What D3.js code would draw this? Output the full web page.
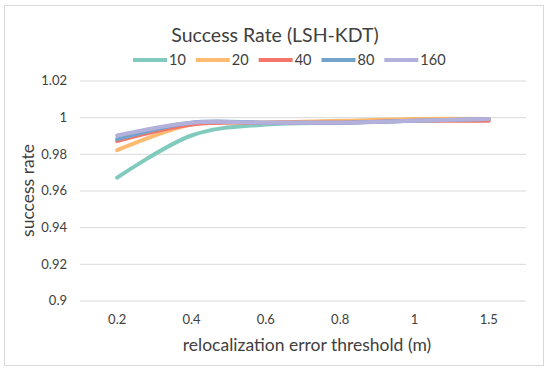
<!DOCTYPE html>
<html>
<head>
<meta charset="utf-8">
<script src="https://cdn.jsdelivr.net/npm/d3@7"></script>
<style>
  html, body { margin: 0; padding: 0; background: #fff; }
  svg { display: block; }
  text { font-family: Lato, "Open Sans", sans-serif; fill: #404040; }
</style>
</head>
<body>
<svg id="chart" width="550" height="371"></svg>
<script>
const categories = ["0.2", "0.4", "0.6", "0.8", "1", "1.5"];
const seriesNames = ["10", "20", "40", "80", "160"];
const s10  = [0.967, 0.990, 0.996, 0.997, 0.998, 0.999];
const s20  = [0.982, 0.996, 0.997, 0.998, 0.999, 0.999];
const s40  = [0.987, 0.996, 0.997, 0.997, 0.998, 0.998];
const s80  = [0.988, 0.997, 0.997, 0.997, 0.998, 0.999];
const s160 = [0.990, 0.997, 0.997, 0.997, 0.998, 0.999];
const yTicks = [0.9, 0.92, 0.94, 0.96, 0.98, 1, 1.02];
const yTickLabels = ["0.9", "0.92", "0.94", "0.96", "0.98", "1", "1.02"];
const colors = ["#80cbbd", "#fdbb72", "#f4756a", "#72a3cc", "#b3b0dc"];

const seriesValues = [s10, s20, s40, s80, s160];
const svg = d3.select("#chart");
const W = 550, H = 371;
const m = { left: 80, right: 24, top: 80.5, bottom: 70.5 };

// chart border
svg.append("rect").attr("x", 4.5).attr("y", 5.5).attr("width", 539).attr("height", 360)
  .attr("fill", "#fff").attr("stroke", "#d9d9d9").attr("stroke-width", 1);

const x = d3.scaleBand().domain(categories).range([m.left, W - m.right]);
const y = d3.scaleLinear().domain([0.9, 1.02]).range([H - m.bottom, m.top]);

// gridlines
const grid = svg.append("g").attr("class", "grid")
  .attr("transform", `translate(${m.left},0)`)
  .call(d3.axisLeft(y).tickValues(yTicks).tickSize(-(W - m.left - m.right)).tickFormat(""));
grid.select(".domain").remove();
grid.selectAll("line").attr("stroke", "#d9d9d9").attr("stroke-width", 1);

// y axis labels
const yAxis = svg.append("g")
  .attr("transform", `translate(${m.left - 13},0)`)
  .call(d3.axisLeft(y).tickValues(yTicks).tickSize(0).tickPadding(0)
    .tickFormat((d, i) => yTickLabels[i]));
yAxis.select(".domain").remove();
yAxis.selectAll("text").style("font-size", "13px").attr("fill", "#404040")
  .style("font-family", "Lato, 'Open Sans', sans-serif");

// x axis labels
const xAxis = svg.append("g")
  .attr("transform", `translate(0,${H - m.bottom})`)
  .call(d3.axisBottom(x).tickSize(0).tickPadding(14));
xAxis.select(".domain").remove();
xAxis.selectAll("text").style("font-size", "13px").attr("fill", "#404040")
  .style("font-family", "Lato, 'Open Sans', sans-serif");

// lines
const line = d3.line()
  .x((d, i) => x(categories[i]) + x.bandwidth() / 2)
  .y(d => y(d))
  .curve(d3.curveCardinal.tension(0));

seriesValues.forEach((vals, k) => {
  svg.append("path").datum(vals)
    .attr("d", line)
    .attr("fill", "none")
    .attr("stroke", colors[k])
    .attr("stroke-width", 4)
    .attr("stroke-linecap", "round")
    .attr("stroke-linejoin", "round");
});

// title
svg.append("text").attr("x", 275).attr("y", 42).attr("text-anchor", "middle")
  .style("font-size", "19.5px").text("Success Rate (LSH-KDT)");

// axis titles
svg.append("text").attr("x", (m.left + W - m.right) / 2 + 4).attr("y", 351)
  .attr("text-anchor", "middle").style("font-size", "17.5px")
  .text("relocalization error threshold (m)");
svg.append("text")
  .attr("transform", `translate(34,${(m.top + H - m.bottom) / 2}) rotate(-90)`)
  .attr("text-anchor", "middle").style("font-size", "17.5px")
  .text("success rate");

// legend
const legend = svg.append("g");
const lineLen = 34, gapText = 2, gapItem = 10, legendY = 60;
let lx = 0;
seriesNames.forEach((name, k) => {
  const g = legend.append("g");
  g.append("line").attr("x1", lx).attr("x2", lx + lineLen)
    .attr("y1", legendY).attr("y2", legendY)
    .attr("stroke", colors[k]).attr("stroke-width", 4);
  const t = g.append("text").attr("x", lx + lineLen + gapText).attr("y", legendY + 5)
    .style("font-size", "14.5px").text(name);
  const w = t.node().getComputedTextLength();
  lx += lineLen + gapText + w + gapItem;
});
legend.attr("transform", `translate(${133},0)`);
</script>
</body>
</html>
